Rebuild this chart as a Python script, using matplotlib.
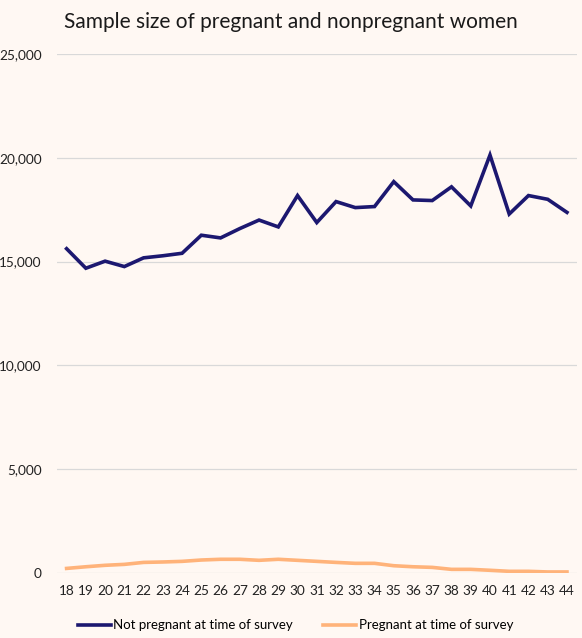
import numpy as np
import matplotlib.pyplot as plt
from matplotlib.ticker import FuncFormatter

# 年龄（类别轴）
ages = list(range(18, 45))

# 未怀孕样本数
not_pregnant = [15620, 14680, 15020, 14760, 15180, 15280, 15400, 16270, 16140,
                16590, 17000, 16670, 18180, 16880, 17890, 17600, 17650, 18850,
                17970, 17940, 18600, 17680, 20130, 17290, 18180, 18000, 17370]

# 怀孕样本数
pregnant = [220, 300, 370, 415, 510, 530, 560, 625, 660, 660, 610, 660, 610,
            560, 510, 465, 465, 350, 300, 270, 175, 175, 130, 80, 80, 50, 50]

y_ticks = [0, 5000, 10000, 15000, 20000, 25000]

bg = '#FFF8F3'
navy = '#1C1870'
orange = '#FFB37A'

plt.rcParams['font.family'] = ['Lato', 'DejaVu Sans']

fig = plt.figure(figsize=(5.82, 6.38), dpi=100, facecolor=bg)
ax = fig.add_axes([0.0979, 0.1019, 0.8928, 0.8135], facecolor=bg)

ax.plot(ages, not_pregnant, color=navy, lw=2.6, solid_joinstyle='miter',
        label='Not pregnant at time of survey')
ax.plot(ages, pregnant, color=orange, lw=2.6,
        label='Pregnant at time of survey')

ax.set_xlim(17.5, 44.5)
ax.set_ylim(0, 25000)
ax.set_yticks(y_ticks)
ax.yaxis.set_major_formatter(FuncFormatter(lambda v, p: f'{int(v):,}'))
ax.set_xticks(ages)

ax.grid(axis='y', color='#D9D9D9', lw=0.9)
ax.set_axisbelow(True)
for s in ax.spines.values():
    s.set_visible(False)
ax.tick_params(axis='both', length=0, labelsize=9.8, colors='#222222')
ax.tick_params(axis='y', pad=11)
ax.tick_params(axis='x', pad=9)

fig.text(0.5, 0.965, 'Sample size of pregnant and nonpregnant women',
         ha='center', va='center', fontsize=15, color='#1a1a1a')

fig.legend(loc='center', bbox_to_anchor=(0.508, 0.02), ncol=2, frameon=False,
           fontsize=9.5, handlelength=2.5, handletextpad=0.2, columnspacing=2.3)

fig.savefig('out.png', dpi=100, facecolor=bg)
